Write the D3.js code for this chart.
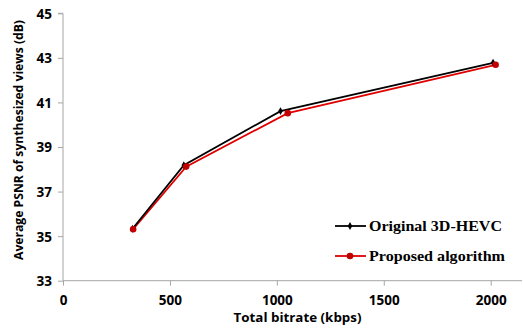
<!DOCTYPE html>
<html>
<head>
<meta charset="utf-8">
<script src="https://cdn.jsdelivr.net/npm/d3@7"></script>
<style>
  html, body { margin: 0; padding: 0; background: #fff; }
  svg { display: block; }
  .tick text { font-family: "Open Sans", sans-serif; font-weight: 700; font-size: 13.5px; fill: #000; }
</style>
</head>
<body>
<svg id="chart" width="523" height="335"></svg>
<script>
// Rate–distortion points: total bitrate (kbps) vs average PSNR (dB)
const seriesNames = ["Original 3D-HEVC", "Proposed algorithm"];
const originalBitrate = [325, 565, 1017, 2011];
const originalPSNR = [35.33, 38.18, 40.61, 42.78];
const proposedBitrate = [328, 576, 1051, 2023];
const proposedPSNR = [35.31, 38.12, 40.52, 42.69];
const xTicks = [0, 500, 1000, 1500, 2000];
const yTicks = [33, 35, 37, 39, 41, 43, 45];

const svg = d3.select("#chart");
const axisColor = "#a6a6a6";

const x = d3.scaleLinear().domain([0, 2000]).range([63, 490.7]);
const y = d3.scaleLinear().domain([33, 45]).range([280.7, 13.3]);

// Y axis
const yAxis = svg.append("g")
  .attr("transform", `translate(${x(0)},0)`)
  .call(d3.axisLeft(y).tickValues(yTicks).tickSize(5).tickPadding(6).tickFormat(d3.format("d")));
yAxis.select(".domain").attr("stroke", axisColor).attr("d", `M-5,${y(45)}H0V${y(33)}`);
yAxis.selectAll(".tick line").attr("stroke", axisColor);
yAxis.selectAll(".tick text").attr("dy", "0.36em");

// X axis
const xAxis = svg.append("g")
  .attr("transform", `translate(0,${y(33)})`)
  .call(d3.axisBottom(x).tickValues(xTicks).tickSize(5).tickPadding(10).tickFormat(d3.format("d")));
xAxis.select(".domain").attr("stroke", axisColor).attr("d", `M${x(0)},0H522`);
xAxis.selectAll(".tick line").attr("stroke", axisColor);

// Axis titles
svg.append("text")
  .attr("x", 297.5).attr("y", 322)
  .attr("text-anchor", "middle")
  .attr("font-family", "Open Sans, sans-serif").attr("font-weight", 700).attr("font-size", 13)
  .attr("textLength", 128).attr("lengthAdjust", "spacingAndGlyphs")
  .text("Total bitrate (kbps)");

svg.append("text")
  .attr("transform", "translate(23,140) rotate(-90)")
  .attr("text-anchor", "middle")
  .attr("font-family", "Open Sans, sans-serif").attr("font-weight", 700).attr("font-size", 13)
  .attr("textLength", 240).attr("lengthAdjust", "spacingAndGlyphs")
  .text("Average PSNR of synthesized views (dB)");

const line = d3.line().x(d => x(d[0])).y(d => y(d[1]));
const original = originalBitrate.map((b, i) => [b, originalPSNR[i]]);
const proposed = proposedBitrate.map((b, i) => [b, proposedPSNR[i]]);

// Proposed algorithm (red, circles)
svg.append("path").datum(proposed)
  .attr("d", line).attr("fill", "none").attr("stroke", "#e00000").attr("stroke-width", 1.8);
// Original 3D-HEVC (black, small diamonds)
svg.append("path").datum(original)
  .attr("d", line).attr("fill", "none").attr("stroke", "#000").attr("stroke-width", 1.8);
const diamond = d3.symbol().type(d3.symbolDiamond).size(18);
svg.selectAll(".orig-pt").data(original).enter().append("path")
  .attr("transform", d => `translate(${x(d[0])},${y(d[1])})`)
  .attr("d", diamond).attr("fill", "#000");
svg.selectAll(".prop-pt").data(proposed).enter().append("circle")
  .attr("cx", d => x(d[0])).attr("cy", d => y(d[1])).attr("r", 3.3)
  .attr("fill", "#c00000");

// Legend
const legend = svg.append("g");
const colors = ["#000", "#e00000"];
const legendWidths = [133, 136];
seriesNames.forEach((name, i) => {
  const ly = 226 + i * 30;
  legend.append("line").attr("x1", 335).attr("x2", 366).attr("y1", ly).attr("y2", ly)
    .attr("stroke", colors[i]).attr("stroke-width", 1.8);
  if (i === 0) {
    legend.append("path").attr("transform", `translate(350,${ly})`).attr("d", diamond).attr("fill", "#000");
  } else {
    legend.append("circle").attr("cx", 350).attr("cy", ly).attr("r", 3.3).attr("fill", "#c00000");
  }
  legend.append("text").attr("x", 369).attr("y", ly + 5)
    .attr("font-family", "Liberation Serif, serif").attr("font-weight", 700).attr("font-size", 15.5)
    .attr("textLength", legendWidths[i]).attr("lengthAdjust", "spacingAndGlyphs")
    .text(name);
});
</script>
</body>
</html>
